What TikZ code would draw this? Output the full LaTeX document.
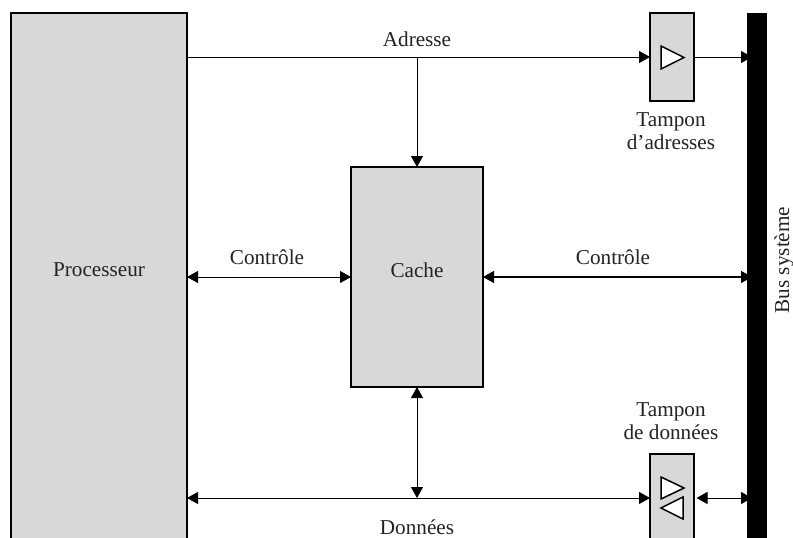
\documentclass[tikz,border=0pt]{standalone}
\usepackage{fontspec}
\setmainfont{Liberation Serif}
\usetikzlibrary{arrows.meta}
\definecolor{boxgray}{RGB}{216,216,216}
\definecolor{inktext}{RGB}{35,35,35}
\tikzset{
  x=1pt,y=-1pt,
  block/.style={draw=black,line width=2pt,outer sep=0pt,fill=boxgray,rectangle,inner sep=0pt,anchor=north west},
  busbar/.style={fill=black,draw=none,outer sep=0pt,rectangle,inner sep=0pt,anchor=north west},
  lbl/.style={text=inktext,font=\fontsize{21.2}{23}\selectfont,inner sep=0pt,align=center},
  conn/.style={line width=1pt,draw=black},
  oneway/.style={conn,-{Triangle[length=11pt,width=12pt]}},
  twoway/.style={conn,{Triangle[length=11pt,width=12pt]}-{Triangle[length=11pt,width=12pt]}},
  gate/.style={draw=black,line width=1.5pt,fill=white,line join=miter}
}
\begin{document}
\begin{tikzpicture}
\clip (0,0) rectangle (793,538);
\fill[white] (0,0) rectangle (793,538);
\node[block,minimum width=176pt,minimum height=560pt] (proc) at (11,13) {};
\node[block,minimum width=132pt,minimum height=220pt] (cache) at (351,167) {};
\node[block,minimum width=44pt,minimum height=88pt] (tadr) at (650,13) {};
\node[block,minimum width=44pt,minimum height=120pt] (tdon) at (650,454) {};
\node[busbar,minimum width=20pt,minimum height=560pt] (bus) at (747,13) {};
\coordinate (ya) at (0,57);
\coordinate (yc) at (0,277);
\coordinate (yd) at (0,498);
\coordinate (xv) at (417,0);
\coordinate (xb) at (752,0);
\coordinate (xt) at (696.5,0);
% connectors
\draw[oneway] (proc.east |- ya) -- (tadr.west |- ya);
\draw[oneway] (tadr.east |- ya) -- (xb |- ya);
\draw[oneway] (xv |- ya) -- (xv |- cache.north);
\draw[twoway] (proc.east |- yc) -- (cache.west |- yc);
\draw[twoway,line width=1.4pt] (cache.east |- yc) -- (xb |- yc);
\draw[twoway] (xv |- cache.south) -- (xv |- yd);
\draw[twoway] (proc.east |- yd) -- (tdon.west |- yd);
\draw[twoway] (xt |- yd) -- (xb |- yd);
% buffers
\draw[gate] (661,46) -- (684,57.5) -- (661,69) -- cycle;
\draw[gate] (661,477) -- (684,488) -- (661,499) -- cycle;
\draw[gate] (683,497) -- (661,508) -- (683,519) -- cycle;
% labels
\node[lbl] (ladr) at (417,39) {Adresse};
\node[lbl] (ltadr) at (671,131.5) {Tampon\\d’adresses};
\node[lbl] (lc1) at (267,257) {Contrôle};
\node[lbl] (lc2) at (613,257) {Contrôle};
\node[lbl] (lproc) at (99,270) {Processeur};
\node[lbl] (lcache) at (417,270) {Cache};
\node[lbl,rotate=90] (lbus) at (784,260) {Bus système};
\node[lbl] (ltdon) at (671,421) {Tampon\\de données};
\node[lbl] (ldon) at (417,527) {Données};
\end{tikzpicture}
\end{document}
